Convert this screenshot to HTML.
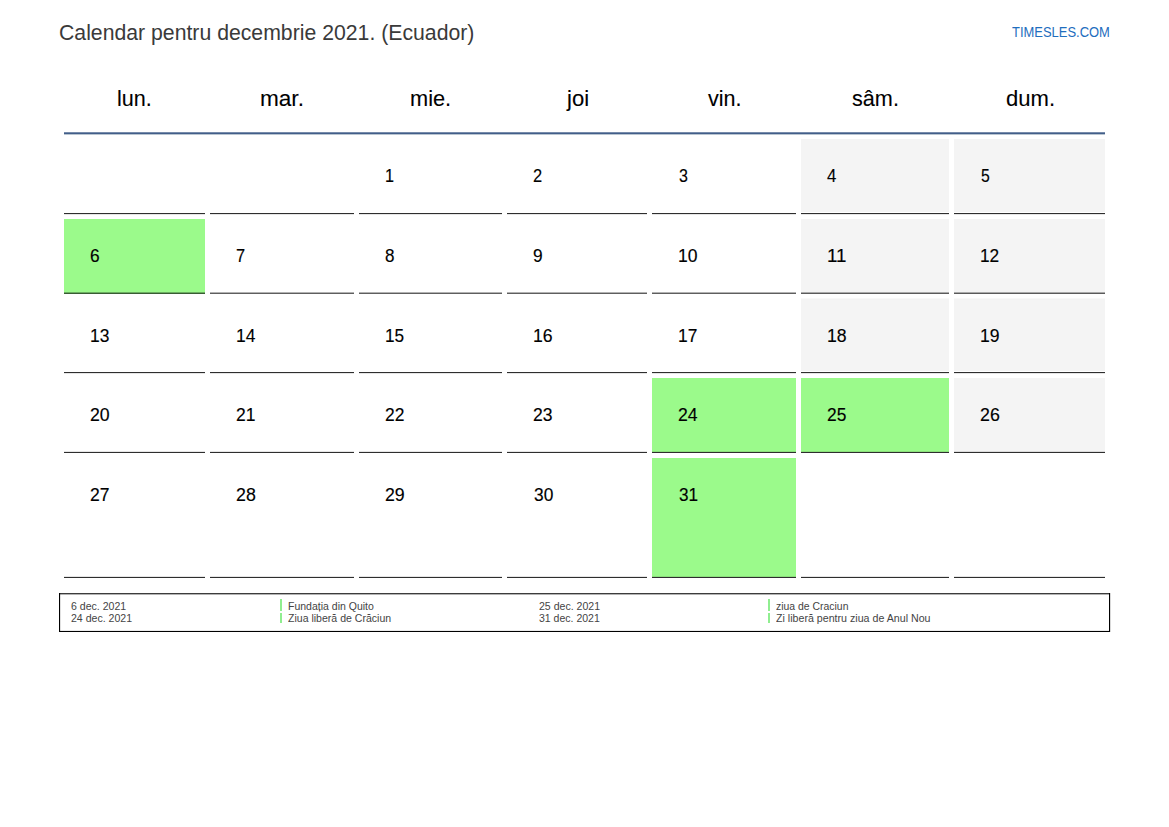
<!DOCTYPE html><html><head><meta charset="utf-8"><style>
html,body{margin:0;padding:0;background:#fff;width:1169px;height:827px;overflow:hidden}
body{position:relative;font-family:"Liberation Sans",sans-serif}
.t{position:absolute;white-space:nowrap;transform-origin:0 0}
.b{position:absolute}
</style></head><body>
<div class="b" style="left:64px;top:213px;width:141px;height:1px;background:rgba(0,0,0,0.82)"></div>
<div class="b" style="left:64px;top:214px;width:141px;height:1px;background:rgba(0,0,0,0.1)"></div>
<div class="b" style="left:210px;top:213px;width:144px;height:1px;background:rgba(0,0,0,0.82)"></div>
<div class="b" style="left:210px;top:214px;width:144px;height:1px;background:rgba(0,0,0,0.1)"></div>
<div class="b" style="left:359px;top:213px;width:143px;height:1px;background:rgba(0,0,0,0.82)"></div>
<div class="b" style="left:359px;top:214px;width:143px;height:1px;background:rgba(0,0,0,0.1)"></div>
<div class="b" style="left:507px;top:213px;width:140px;height:1px;background:rgba(0,0,0,0.82)"></div>
<div class="b" style="left:507px;top:214px;width:140px;height:1px;background:rgba(0,0,0,0.1)"></div>
<div class="b" style="left:652px;top:213px;width:144px;height:1px;background:rgba(0,0,0,0.82)"></div>
<div class="b" style="left:652px;top:214px;width:144px;height:1px;background:rgba(0,0,0,0.1)"></div>
<div class="b" style="left:801px;top:139px;width:148px;height:73px;background:#f4f4f4"></div>
<div class="b" style="left:801px;top:213px;width:148px;height:1px;background:rgba(0,0,0,0.82)"></div>
<div class="b" style="left:801px;top:214px;width:148px;height:1px;background:rgba(0,0,0,0.1)"></div>
<div class="b" style="left:954px;top:139px;width:151px;height:73px;background:#f4f4f4"></div>
<div class="b" style="left:954px;top:213px;width:151px;height:1px;background:rgba(0,0,0,0.82)"></div>
<div class="b" style="left:954px;top:214px;width:151px;height:1px;background:rgba(0,0,0,0.1)"></div>
<div class="b" style="left:64px;top:219px;width:141px;height:75px;background:#9bfa8b"></div>
<div class="b" style="left:64px;top:292px;width:141px;height:1px;background:rgba(0,0,0,0.3)"></div>
<div class="b" style="left:64px;top:293px;width:141px;height:1px;background:rgba(0,0,0,0.63)"></div>
<div class="b" style="left:210px;top:292px;width:144px;height:1px;background:rgba(0,0,0,0.3)"></div>
<div class="b" style="left:210px;top:293px;width:144px;height:1px;background:rgba(0,0,0,0.63)"></div>
<div class="b" style="left:359px;top:292px;width:143px;height:1px;background:rgba(0,0,0,0.3)"></div>
<div class="b" style="left:359px;top:293px;width:143px;height:1px;background:rgba(0,0,0,0.63)"></div>
<div class="b" style="left:507px;top:292px;width:140px;height:1px;background:rgba(0,0,0,0.3)"></div>
<div class="b" style="left:507px;top:293px;width:140px;height:1px;background:rgba(0,0,0,0.63)"></div>
<div class="b" style="left:652px;top:292px;width:144px;height:1px;background:rgba(0,0,0,0.3)"></div>
<div class="b" style="left:652px;top:293px;width:144px;height:1px;background:rgba(0,0,0,0.63)"></div>
<div class="b" style="left:801px;top:219px;width:148px;height:75px;background:#f4f4f4"></div>
<div class="b" style="left:801px;top:292px;width:148px;height:1px;background:rgba(0,0,0,0.3)"></div>
<div class="b" style="left:801px;top:293px;width:148px;height:1px;background:rgba(0,0,0,0.63)"></div>
<div class="b" style="left:954px;top:219px;width:151px;height:75px;background:#f4f4f4"></div>
<div class="b" style="left:954px;top:292px;width:151px;height:1px;background:rgba(0,0,0,0.3)"></div>
<div class="b" style="left:954px;top:293px;width:151px;height:1px;background:rgba(0,0,0,0.63)"></div>
<div class="b" style="left:64px;top:372px;width:141px;height:1px;background:rgba(0,0,0,0.82)"></div>
<div class="b" style="left:64px;top:373px;width:141px;height:1px;background:rgba(0,0,0,0.1)"></div>
<div class="b" style="left:210px;top:372px;width:144px;height:1px;background:rgba(0,0,0,0.82)"></div>
<div class="b" style="left:210px;top:373px;width:144px;height:1px;background:rgba(0,0,0,0.1)"></div>
<div class="b" style="left:359px;top:372px;width:143px;height:1px;background:rgba(0,0,0,0.82)"></div>
<div class="b" style="left:359px;top:373px;width:143px;height:1px;background:rgba(0,0,0,0.1)"></div>
<div class="b" style="left:507px;top:372px;width:140px;height:1px;background:rgba(0,0,0,0.82)"></div>
<div class="b" style="left:507px;top:373px;width:140px;height:1px;background:rgba(0,0,0,0.1)"></div>
<div class="b" style="left:652px;top:372px;width:144px;height:1px;background:rgba(0,0,0,0.82)"></div>
<div class="b" style="left:652px;top:373px;width:144px;height:1px;background:rgba(0,0,0,0.1)"></div>
<div class="b" style="left:801px;top:298px;width:148px;height:1px;background:#f4f4f4;opacity:.5"></div>
<div class="b" style="left:801px;top:299px;width:148px;height:72px;background:#f4f4f4"></div>
<div class="b" style="left:801px;top:372px;width:148px;height:1px;background:rgba(0,0,0,0.82)"></div>
<div class="b" style="left:801px;top:373px;width:148px;height:1px;background:rgba(0,0,0,0.1)"></div>
<div class="b" style="left:954px;top:298px;width:151px;height:1px;background:#f4f4f4;opacity:.5"></div>
<div class="b" style="left:954px;top:299px;width:151px;height:72px;background:#f4f4f4"></div>
<div class="b" style="left:954px;top:372px;width:151px;height:1px;background:rgba(0,0,0,0.82)"></div>
<div class="b" style="left:954px;top:373px;width:151px;height:1px;background:rgba(0,0,0,0.1)"></div>
<div class="b" style="left:64px;top:451px;width:141px;height:1px;background:rgba(0,0,0,0.1)"></div>
<div class="b" style="left:64px;top:452px;width:141px;height:1px;background:rgba(0,0,0,0.82)"></div>
<div class="b" style="left:210px;top:451px;width:144px;height:1px;background:rgba(0,0,0,0.1)"></div>
<div class="b" style="left:210px;top:452px;width:144px;height:1px;background:rgba(0,0,0,0.82)"></div>
<div class="b" style="left:359px;top:451px;width:143px;height:1px;background:rgba(0,0,0,0.1)"></div>
<div class="b" style="left:359px;top:452px;width:143px;height:1px;background:rgba(0,0,0,0.82)"></div>
<div class="b" style="left:507px;top:451px;width:140px;height:1px;background:rgba(0,0,0,0.1)"></div>
<div class="b" style="left:507px;top:452px;width:140px;height:1px;background:rgba(0,0,0,0.82)"></div>
<div class="b" style="left:652px;top:378px;width:144px;height:74px;background:#9bfa8b"></div>
<div class="b" style="left:652px;top:451px;width:144px;height:1px;background:rgba(0,0,0,0.1)"></div>
<div class="b" style="left:652px;top:452px;width:144px;height:1px;background:rgba(0,0,0,0.82)"></div>
<div class="b" style="left:801px;top:378px;width:148px;height:74px;background:#9bfa8b"></div>
<div class="b" style="left:801px;top:451px;width:148px;height:1px;background:rgba(0,0,0,0.1)"></div>
<div class="b" style="left:801px;top:452px;width:148px;height:1px;background:rgba(0,0,0,0.82)"></div>
<div class="b" style="left:954px;top:378px;width:151px;height:74px;background:#f4f4f4"></div>
<div class="b" style="left:954px;top:451px;width:151px;height:1px;background:rgba(0,0,0,0.1)"></div>
<div class="b" style="left:954px;top:452px;width:151px;height:1px;background:rgba(0,0,0,0.82)"></div>
<div class="b" style="left:64px;top:576px;width:141px;height:1px;background:rgba(0,0,0,0.1)"></div>
<div class="b" style="left:64px;top:577px;width:141px;height:1px;background:rgba(0,0,0,0.82)"></div>
<div class="b" style="left:210px;top:576px;width:144px;height:1px;background:rgba(0,0,0,0.1)"></div>
<div class="b" style="left:210px;top:577px;width:144px;height:1px;background:rgba(0,0,0,0.82)"></div>
<div class="b" style="left:359px;top:576px;width:143px;height:1px;background:rgba(0,0,0,0.1)"></div>
<div class="b" style="left:359px;top:577px;width:143px;height:1px;background:rgba(0,0,0,0.82)"></div>
<div class="b" style="left:507px;top:576px;width:140px;height:1px;background:rgba(0,0,0,0.1)"></div>
<div class="b" style="left:507px;top:577px;width:140px;height:1px;background:rgba(0,0,0,0.82)"></div>
<div class="b" style="left:652px;top:458px;width:144px;height:119px;background:#9bfa8b"></div>
<div class="b" style="left:652px;top:576px;width:144px;height:1px;background:rgba(0,0,0,0.1)"></div>
<div class="b" style="left:652px;top:577px;width:144px;height:1px;background:rgba(0,0,0,0.82)"></div>
<div class="b" style="left:801px;top:576px;width:148px;height:1px;background:rgba(0,0,0,0.1)"></div>
<div class="b" style="left:801px;top:577px;width:148px;height:1px;background:rgba(0,0,0,0.82)"></div>
<div class="b" style="left:954px;top:576px;width:151px;height:1px;background:rgba(0,0,0,0.1)"></div>
<div class="b" style="left:954px;top:577px;width:151px;height:1px;background:rgba(0,0,0,0.82)"></div>
<div class="b" style="left:64px;top:132px;width:1041px;height:1px;background:rgba(66,94,137,.72)"></div>
<div class="b" style="left:64px;top:133px;width:1041px;height:1px;background:#425e89"></div>
<div class="b" style="left:64px;top:134px;width:1041px;height:1px;background:rgba(80,110,140,.4)"></div>
<div class="b" style="left:59px;top:593px;width:1051px;height:1px;background:#3c3c3c"></div>
<div class="b" style="left:59px;top:594px;width:1051px;height:1px;background:rgba(0,0,0,.3)"></div>
<div class="b" style="left:59px;top:631px;width:1051px;height:1px;background:#000"></div>
<div class="b" style="left:59px;top:630px;width:1051px;height:1px;background:rgba(0,0,0,.08)"></div>
<div class="b" style="left:59px;top:593px;width:1px;height:39px;background:#000"></div>
<div class="b" style="left:60px;top:593px;width:1px;height:39px;background:rgba(0,0,0,.12)"></div>
<div class="b" style="left:1109px;top:593px;width:1px;height:39px;background:#000"></div>
<div class="b" style="left:1110px;top:593px;width:1px;height:39px;background:rgba(0,0,0,.15)"></div>
<div class="b" style="left:280px;top:599px;width:2px;height:12px;background:#90ee90"></div>
<div class="b" style="left:280px;top:613px;width:2px;height:10px;background:#90ee90"></div>
<div class="b" style="left:768px;top:599px;width:2px;height:12px;background:#90ee90"></div>
<div class="b" style="left:768px;top:613px;width:2px;height:10px;background:#90ee90"></div>
<div class="t" style="left:58.95px;top:22.60px;font-size:21.5px;line-height:21.5px;color:#3a3a3a;transform:scaleX(0.9874)">Calendar pentru decembrie 2021. (Ecuador)</div>
<div class="t" style="left:1012.44px;top:24.06px;font-size:15.4px;line-height:15.4px;color:#1f6ebe;transform:scaleX(0.8419)">TIMESLES.COM</div>
<div class="t" style="left:117.48px;top:88.34px;font-size:21.8px;line-height:21.8px;color:#000;transform:scaleX(0.9890);-webkit-text-stroke:0.1px #000">lun.</div>
<div class="t" style="left:260.21px;top:88.34px;font-size:21.8px;line-height:21.8px;color:#000;transform:scaleX(1.0359);-webkit-text-stroke:0.1px #000">mar.</div>
<div class="t" style="left:410.26px;top:88.34px;font-size:21.8px;line-height:21.8px;color:#000;transform:scaleX(0.9987);-webkit-text-stroke:0.1px #000">mie.</div>
<div class="t" style="left:567.07px;top:88.34px;font-size:21.8px;line-height:21.8px;color:#000;transform:scaleX(1.0125);-webkit-text-stroke:0.1px #000">joi</div>
<div class="t" style="left:707.94px;top:88.34px;font-size:21.8px;line-height:21.8px;color:#000;transform:scaleX(0.9882);-webkit-text-stroke:0.1px #000">vin.</div>
<div class="t" style="left:851.58px;top:88.34px;font-size:21.8px;line-height:21.8px;color:#000;transform:scaleX(0.9927);-webkit-text-stroke:0.1px #000">sâm.</div>
<div class="t" style="left:1005.55px;top:88.34px;font-size:21.8px;line-height:21.8px;color:#000;transform:scaleX(1.0118);-webkit-text-stroke:0.1px #000">dum.</div>
<div class="t" style="left:385.41px;top:167.08px;font-size:18.8px;line-height:18.8px;color:#000;transform:scaleX(0.8615);-webkit-text-stroke:0.15px #000">1</div>
<div class="t" style="left:533.20px;top:167.08px;font-size:18.8px;line-height:18.8px;color:#000;transform:scaleX(0.8759);-webkit-text-stroke:0.15px #000">2</div>
<div class="t" style="left:678.56px;top:167.08px;font-size:18.8px;line-height:18.8px;color:#000;transform:scaleX(0.8531);-webkit-text-stroke:0.15px #000">3</div>
<div class="t" style="left:827.26px;top:167.08px;font-size:18.8px;line-height:18.8px;color:#000;transform:scaleX(0.8947);-webkit-text-stroke:0.15px #000">4</div>
<div class="t" style="left:980.52px;top:167.08px;font-size:18.8px;line-height:18.8px;color:#000;transform:scaleX(0.8392);-webkit-text-stroke:0.15px #000">5</div>
<div class="t" style="left:90.16px;top:246.83px;font-size:18.8px;line-height:18.8px;color:#000;transform:scaleX(0.9209);-webkit-text-stroke:0.15px #000">6</div>
<div class="t" style="left:236.33px;top:246.83px;font-size:18.8px;line-height:18.8px;color:#000;transform:scaleX(0.8759);-webkit-text-stroke:0.15px #000">7</div>
<div class="t" style="left:385.29px;top:246.83px;font-size:18.8px;line-height:18.8px;color:#000;transform:scaleX(0.9078);-webkit-text-stroke:0.15px #000">8</div>
<div class="t" style="left:533.09px;top:246.83px;font-size:18.8px;line-height:18.8px;color:#000;transform:scaleX(0.9209);-webkit-text-stroke:0.15px #000">9</div>
<div class="t" style="left:678.31px;top:246.83px;font-size:18.8px;line-height:18.8px;color:#000;transform:scaleX(0.9333);-webkit-text-stroke:0.15px #000">10</div>
<div class="t" style="left:827.22px;top:246.83px;font-size:18.8px;line-height:18.8px;color:#000;transform:scaleX(0.9964);-webkit-text-stroke:0.15px #000">11</div>
<div class="t" style="left:980.33px;top:246.83px;font-size:18.8px;line-height:18.8px;color:#000;transform:scaleX(0.9189);-webkit-text-stroke:0.15px #000">12</div>
<div class="t" style="left:90.32px;top:326.58px;font-size:18.8px;line-height:18.8px;color:#000;transform:scaleX(0.9262);-webkit-text-stroke:0.15px #000">13</div>
<div class="t" style="left:236.31px;top:326.58px;font-size:18.8px;line-height:18.8px;color:#000;transform:scaleX(0.9307);-webkit-text-stroke:0.15px #000">14</div>
<div class="t" style="left:385.33px;top:326.58px;font-size:18.8px;line-height:18.8px;color:#000;transform:scaleX(0.9164);-webkit-text-stroke:0.15px #000">15</div>
<div class="t" style="left:533.30px;top:326.58px;font-size:18.8px;line-height:18.8px;color:#000;transform:scaleX(0.9396);-webkit-text-stroke:0.15px #000">16</div>
<div class="t" style="left:678.32px;top:326.58px;font-size:18.8px;line-height:18.8px;color:#000;transform:scaleX(0.9257);-webkit-text-stroke:0.15px #000">17</div>
<div class="t" style="left:827.30px;top:326.58px;font-size:18.8px;line-height:18.8px;color:#000;transform:scaleX(0.9396);-webkit-text-stroke:0.15px #000">18</div>
<div class="t" style="left:980.30px;top:326.58px;font-size:18.8px;line-height:18.8px;color:#000;transform:scaleX(0.9360);-webkit-text-stroke:0.15px #000">19</div>
<div class="t" style="left:90.14px;top:406.33px;font-size:18.8px;line-height:18.8px;color:#000;transform:scaleX(0.9416);-webkit-text-stroke:0.15px #000">20</div>
<div class="t" style="left:236.15px;top:406.33px;font-size:18.8px;line-height:18.8px;color:#000;transform:scaleX(0.9311);-webkit-text-stroke:0.15px #000">21</div>
<div class="t" style="left:385.16px;top:406.33px;font-size:18.8px;line-height:18.8px;color:#000;transform:scaleX(0.9276);-webkit-text-stroke:0.15px #000">22</div>
<div class="t" style="left:533.15px;top:406.33px;font-size:18.8px;line-height:18.8px;color:#000;transform:scaleX(0.9346);-webkit-text-stroke:0.15px #000">23</div>
<div class="t" style="left:678.14px;top:406.33px;font-size:18.8px;line-height:18.8px;color:#000;transform:scaleX(0.9389);-webkit-text-stroke:0.15px #000">24</div>
<div class="t" style="left:827.16px;top:406.33px;font-size:18.8px;line-height:18.8px;color:#000;transform:scaleX(0.9251);-webkit-text-stroke:0.15px #000">25</div>
<div class="t" style="left:980.14px;top:406.33px;font-size:18.8px;line-height:18.8px;color:#000;transform:scaleX(0.9477);-webkit-text-stroke:0.15px #000">26</div>
<div class="t" style="left:90.15px;top:486.08px;font-size:18.8px;line-height:18.8px;color:#000;transform:scaleX(0.9342);-webkit-text-stroke:0.15px #000">27</div>
<div class="t" style="left:236.14px;top:486.08px;font-size:18.8px;line-height:18.8px;color:#000;transform:scaleX(0.9477);-webkit-text-stroke:0.15px #000">28</div>
<div class="t" style="left:385.14px;top:486.08px;font-size:18.8px;line-height:18.8px;color:#000;transform:scaleX(0.9443);-webkit-text-stroke:0.15px #000">29</div>
<div class="t" style="left:533.52px;top:486.08px;font-size:18.8px;line-height:18.8px;color:#000;transform:scaleX(0.9231);-webkit-text-stroke:0.15px #000">30</div>
<div class="t" style="left:678.52px;top:486.08px;font-size:18.8px;line-height:18.8px;color:#000;transform:scaleX(0.9126);-webkit-text-stroke:0.15px #000">31</div>
<div class="t" style="left:70.88px;top:600.67px;font-size:10.9px;line-height:10.9px;color:#444;transform:scaleX(0.9686)">6 dec. 2021</div>
<div class="t" style="left:70.88px;top:612.67px;font-size:10.9px;line-height:10.9px;color:#444;transform:scaleX(0.9696)">24 dec. 2021</div>
<div class="t" style="left:287.63px;top:600.67px;font-size:10.9px;line-height:10.9px;color:#444;transform:scaleX(0.9650)">Fundația din Quito</div>
<div class="t" style="left:287.67px;top:612.67px;font-size:10.9px;line-height:10.9px;color:#444;transform:scaleX(0.9680)">Ziua liberă de Crăciun</div>
<div class="t" style="left:538.98px;top:600.67px;font-size:10.9px;line-height:10.9px;color:#444;transform:scaleX(0.9696)">25 dec. 2021</div>
<div class="t" style="left:539.23px;top:612.67px;font-size:10.9px;line-height:10.9px;color:#444;transform:scaleX(0.9657)">31 dec. 2021</div>
<div class="t" style="left:775.76px;top:600.67px;font-size:10.9px;line-height:10.9px;color:#444;transform:scaleX(0.9572)">ziua de Craciun</div>
<div class="t" style="left:775.87px;top:612.67px;font-size:10.9px;line-height:10.9px;color:#444;transform:scaleX(0.9777)">Zi liberă pentru ziua de Anul Nou</div>
</body></html>
